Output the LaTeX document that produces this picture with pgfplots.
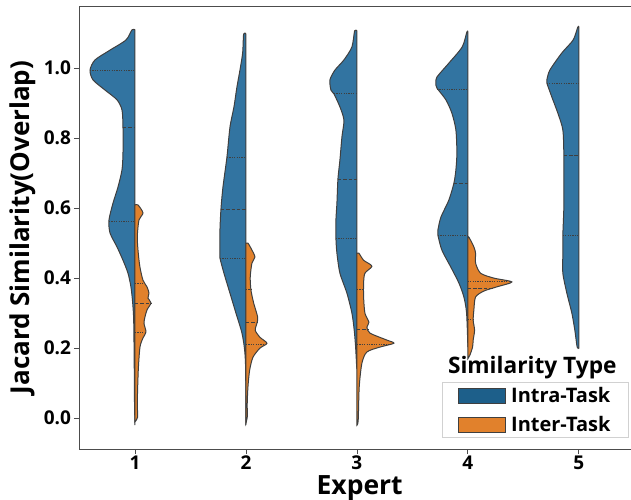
\documentclass[border=0pt]{standalone}
\usepackage{fontspec}
\setmainfont{Open Sans}
\usepackage{pgfplots}
\usepackage{pgfplotstable}
\pgfplotsset{compat=1.18}
\definecolor{vblue}{HTML}{3274A1}
\definecolor{vorange}{HTML}{E1812C}
\definecolor{lblue}{HTML}{1D5F8A}
\definecolor{edgec}{HTML}{3F3F3F}

% y = value, w = half-width in pixels (111 px = 1 x unit)
\pgfplotstableread{
y w
1.109 0
1.109 3
1.080 9
1.051 25
1.023 40
0.994 45
0.966 42
0.937 30
0.909 18
0.880 13
0.831 12
0.757 12
0.709 13
0.660 17
0.614 22
0.566 26
0.529 25
0.489 18
0.451 12
0.414 7
0.374 4
0.329 2.3
0.280 1.3
0.166 0.8
0.050 0.5
-0.020 0
}\vAintra
\pgfplotstableread{
y w
0.609 0
0.609 3
0.586 8
0.566 4
0.517 2.3
0.471 3.3
0.431 5
0.394 8
0.375 12
0.357 14
0.343 13
0.329 16
0.309 12
0.289 10
0.271 9
0.246 11
0.229 8
0.203 5
0.137 3.3
0.043 2.3
0.003 2.7
-0.010 0
}\vAinter
\pgfplotstableread{
y w
1.097 0
1.097 2.3
1.043 3.3
0.994 6
0.946 9
0.889 12
0.831 16
0.746 19
0.660 23
0.597 25
0.537 26
0.471 26
0.457 26
0.414 22
0.357 16
0.300 10
0.243 4
0.194 1.3
0.137 0.3
-0.020 0
}\vBintra
\pgfplotstableread{
y w
0.500 0
0.500 2
0.480 6
0.460 9
0.443 6
0.403 4.3
0.366 5
0.329 7.7
0.289 11.7
0.271 11
0.251 9.3
0.231 14
0.214 21
0.200 14
0.174 7
0.137 3.7
0.089 2
0.043 1.3
0.003 1.3
-0.014 0
}\vBinter
\pgfplotstableread{
y w
1.106 0
1.106 2.3
1.060 5
1.023 13
0.994 22
0.966 27
0.937 26
0.926 23
0.889 17
0.851 13
0.803 15
0.737 17
0.683 19
0.614 20
0.566 21
0.514 21
0.471 20
0.414 17
0.357 10
0.300 5
0.251 2.7
0.203 1.3
0.150 0.3
0.140 0
}\vCintra
\pgfplotstableread{
y w
0.471 0
0.471 2
0.451 6.7
0.434 15
0.414 8
0.386 6.7
0.346 6.7
0.300 8
0.274 12
0.260 10
0.243 13
0.223 30
0.214 37
0.203 23
0.189 10
0.157 5
0.089 2.3
-0.006 1.3
-0.020 0
}\vCinter
\pgfplotstableread{
y w
1.103 0
1.103 1
1.060 5.7
1.014 19
0.974 31
0.957 32
0.943 31
0.909 22
0.871 16
0.823 12
0.757 11
0.709 12
0.671 14
0.623 19
0.574 27
0.537 30
0.523 30
0.480 26
0.431 17
0.386 9
0.346 4
0.300 1.3
0.203 0
}\vDintra
\pgfplotstableread{
y w
0.517 0
0.517 1
0.489 6
0.471 7.7
0.443 7.7
0.414 12.7
0.400 26
0.389 44
0.375 29
0.363 16
0.346 7.7
0.309 6
0.280 5.3
0.251 6.7
0.223 5.3
0.203 4.7
0.180 2
0.170 0
}\vDinter
\pgfplotstableread{
y w
1.117 0
1.117 1
1.080 5.7
1.043 17
0.994 29
0.966 32
0.957 32
0.917 27
0.871 21
0.823 16
0.751 15
0.680 15
0.603 15
0.523 16
0.471 16
0.414 16
0.357 12
0.300 7
0.251 4
0.203 1.7
0.200 0
}\vEintra

\newcommand{\lefthalf}[2]{\addplot[forget plot, fill=vblue, draw=edgec, line width=1bp, smooth, tension=0.45] table[x expr={#1-\thisrow{w}/111}, y=y] {#2} -- cycle;}
\newcommand{\righthalf}[2]{\addplot[forget plot, fill=vorange, draw=edgec, line width=1bp, smooth, tension=0.45] table[x expr={#1+\thisrow{w}/111}, y=y] {#2} -- cycle;}

\begin{document}
\begin{tikzpicture}
\begin{axis}[
  at={(0,0)}, anchor=south west,
  width=551.5bp, height=443bp, scale only axis,
  xmin=0.5, xmax=5.47, ymin=-0.088, ymax=1.177,
  xtick={1,2,3,4,5},
  ytick={0,0.2,0.4,0.6,0.8,1.0},
  /pgf/number format/assume math mode=true,
  yticklabel style={/pgf/number format/.cd, fixed, fixed zerofill, precision=1},
  xticklabel style={yshift=1.5bp, /pgf/number format/.cd, fixed, precision=0},
  tick label style={font=\fontsize{19bp}{22bp}\selectfont\bfseries},
  tick align=outside, tick pos=left, major tick length=5bp,
  tick style={draw=black!70, line width=0.8bp},
  axis line style={draw=black!70, line width=0.8bp},
  xlabel={Expert}, ylabel={Jacard Similarity(Overlap)},
  xlabel style={font=\fontsize{26.5bp}{30bp}\selectfont\bfseries, at={(axis description cs:0.508,-0.089)}, anchor=center},
  ylabel style={font=\fontsize{26bp}{30bp}\selectfont\bfseries, at={(axis description cs:-0.1034,0.5)}, anchor=center},
  legend style={at={(0.657,0.151)}, anchor=north west, draw=black!18, line width=0.8bp, fill=white,
    font=\fontsize{20bp}{23bp}\selectfont\bfseries, inner xsep=16bp, inner ysep=3bp, row sep=8bp, column sep=3bp},
  legend cell align=left,
  legend image code/.code={\draw[#1] (0bp,-7.5bp) rectangle (47bp,7.5bp);},
  clip=false,
]
\lefthalf{1}{\vAintra}
\righthalf{1}{\vAinter}
\lefthalf{2}{\vBintra}
\righthalf{2}{\vBinter}
\lefthalf{3}{\vCintra}
\righthalf{3}{\vCinter}
\lefthalf{4}{\vDintra}
\righthalf{4}{\vDinter}
\lefthalf{5}{\vEintra}

% quartile lines: dotted = quartiles, dashed = median
\pgfplotsset{qd/.style={forget plot, draw=edgec, line width=0.8bp, dash pattern=on 1.2bp off 1.2bp},
             qm/.style={forget plot, draw=edgec, line width=0.8bp, dash pattern=on 3.5bp off 1.8bp}}
\addplot[qd] coordinates {(0.595,0.994) (1,0.994)};
\addplot[qm] coordinates {(0.892,0.831) (1,0.831)};
\addplot[qd] coordinates {(0.766,0.563) (1,0.563)};
\addplot[qd] coordinates {(1,0.386) (1.077,0.386)};
\addplot[qm] coordinates {(1,0.329) (1.144,0.329)};
\addplot[qd] coordinates {(1,0.246) (1.099,0.246)};
\addplot[qd] coordinates {(1.829,0.746) (2,0.746)};
\addplot[qm] coordinates {(1.775,0.597) (2,0.597)};
\addplot[qd] coordinates {(1.766,0.457) (2,0.457)};
\addplot[qd] coordinates {(2,0.369) (2.045,0.369)};
\addplot[qm] coordinates {(2,0.274) (2.104,0.274)};
\addplot[qd] coordinates {(2,0.211) (2.171,0.211)};
\addplot[qd] coordinates {(2.793,0.926) (3,0.926)};
\addplot[qm] coordinates {(2.829,0.683) (3,0.683)};
\addplot[qd] coordinates {(2.811,0.514) (3,0.514)};
\addplot[qd] coordinates {(3,0.369) (3.060,0.369)};
\addplot[qm] coordinates {(3,0.254) (3.099,0.254)};
\addplot[qd] coordinates {(3,0.211) (3.297,0.211)};
\addplot[qd] coordinates {(3.721,0.940) (4,0.940)};
\addplot[qm] coordinates {(3.874,0.671) (4,0.671)};
\addplot[qd] coordinates {(3.730,0.523) (4,0.523)};
\addplot[qd] coordinates {(4,0.391) (4.387,0.391)};
\addplot[qm] coordinates {(4,0.371) (4.225,0.371)};
\addplot[qd] coordinates {(4,0.282) (4.048,0.282)};
\addplot[qd] coordinates {(4.712,0.957) (5,0.957)};
\addplot[qm] coordinates {(4.865,0.751) (5,0.751)};
\addplot[qd] coordinates {(4.856,0.523) (5,0.523)};

\addlegendimage{fill=lblue, draw=edgec, line width=0.9bp}
\addlegendentry{Intra-Task}
\addlegendimage{fill=vorange, draw=edgec, line width=0.9bp}
\addlegendentry{Inter-Task}

\node[font=\fontsize{22.7bp}{26bp}\selectfont\bfseries, anchor=center] at (rel axis cs:0.821,0.183) {Similarity Type};
\end{axis}
\pgfresetboundingbox
\path[use as bounding box] (-79.5bp,-51bp) rectangle (551.5bp,449bp);
\end{tikzpicture}
\end{document}
